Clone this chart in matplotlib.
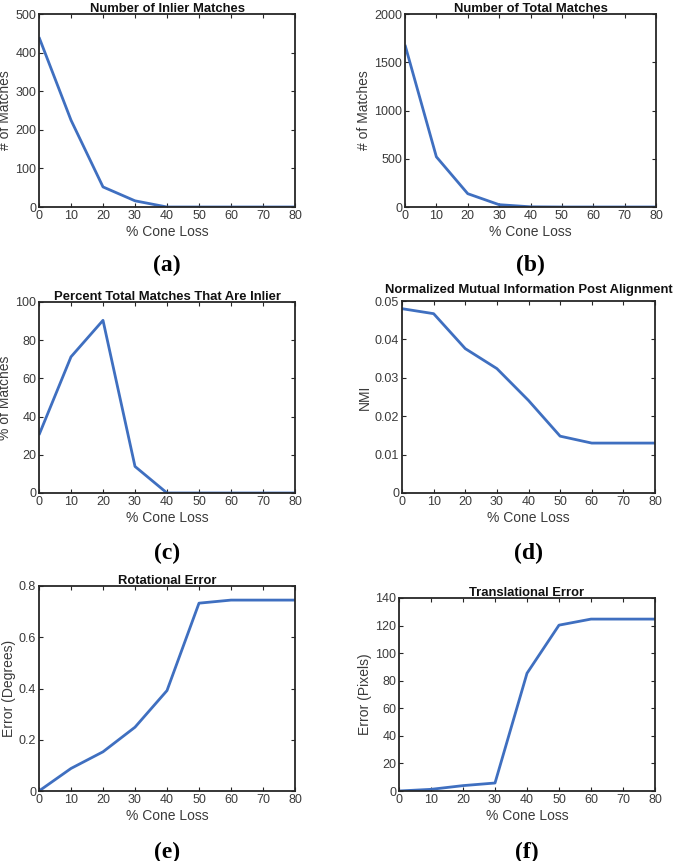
import matplotlib
matplotlib.use("Agg")
import matplotlib.pyplot as plt

plt.rcParams['font.family'] = ['Liberation Sans', 'DejaVu Sans']

# Data
cone_loss = [0, 10, 20, 30, 40, 50, 60, 70, 80]
inlier_matches = [440, 225, 52, 16, 0, 0, 0, 0, 0]
total_matches = [1680, 520, 138, 24, 2, 0, 0, 0, 0]
percent_inlier = [30.4, 71.3, 90.4, 13.9, 0, 0, 0, 0, 0]
nmi = [0.0480, 0.0467, 0.0376, 0.0324, 0.0241, 0.0148, 0.0130, 0.0130, 0.0130]
rot_error = [0.0, 0.088, 0.153, 0.249, 0.392, 0.733, 0.745, 0.745, 0.745]
trans_error = [0.0, 1.2, 3.9, 5.8, 85.4, 120.3, 124.7, 124.7, 124.7]

W, H = 673, 861
fig = plt.figure(figsize=(W / 100, H / 100), dpi=100)

line_color = '#3F6FC0'
text_gray = '#3a3a3a'

def make_ax(x0, y0, x1, y1):
    # pixel box (top-left origin) -> figure fraction
    return fig.add_axes([x0 / W, 1 - y1 / H, (x1 - x0) / W, (y1 - y0) / H])

panels = [
    # box, y data, ylim, yticks, title, title pad, ylabel, letter, letter_y
    ((39, 14, 295, 207), inlier_matches, (0, 500), [0, 100, 200, 300, 400, 500],
     'Number of Inlier Matches', 1.5, '# of Matches', '(a)', 265),
    ((405, 14, 656, 207), total_matches, (0, 2000), [0, 500, 1000, 1500, 2000],
     'Number of Total Matches', 1.5, '# of Matches', '(b)', 265),
    ((39, 302, 295, 493), percent_inlier, (0, 100), [0, 20, 40, 60, 80, 100],
     'Percent Total Matches That Are Inlier', 1.5, '% of Matches', '(c)', 553),
    ((402, 301, 655, 493), nmi, (0, 0.05), [0, 0.01, 0.02, 0.03, 0.04, 0.05],
     'Normalized Mutual Information Post Alignment', 6, 'NMI', '(d)', 553),
    ((39, 586, 295, 791), rot_error, (0, 0.8), [0, 0.2, 0.4, 0.6, 0.8],
     'Rotational Error', 1.5, 'Error (Degrees)', '(e)', 852),
    ((399, 598, 655, 791), trans_error, (0, 140), [0, 20, 40, 60, 80, 100, 120, 140],
     'Translational Error', 1.5, 'Error (Pixels)', '(f)', 852),
]

for box, ydata, ylim, yticks, title, tpad, ylabel, letter, letter_y in panels:
    ax = make_ax(*box)
    ax.plot(cone_loss, ydata, color=line_color, linewidth=2.0, solid_capstyle='butt')
    ax.set_xlim(0, 80)
    ax.set_ylim(*ylim)
    ax.set_xticks(cone_loss)
    ax.set_yticks(yticks)
    ax.set_yticklabels([('%g' % t) for t in yticks])
    ax.tick_params(direction='in', top=True, right=True, length=3, width=0.8,
                   labelsize=9, colors='#262626', labelcolor=text_gray, pad=2)
    for s in ax.spines.values():
        s.set_linewidth(1.3)
        s.set_color('#262626')
    ax.set_title(title, fontsize=9.4, fontweight='bold', pad=tpad, color='#111111')
    ax.set_xlabel('% Cone Loss', fontsize=10, color=text_gray, labelpad=2)
    ax.set_ylabel(ylabel, fontsize=10, color=text_gray, labelpad=2)
    cx = (box[0] + box[2]) / 2
    fig.text(cx / W, 1 - letter_y / H, letter, fontsize=17, fontweight='bold',
             family='Liberation Serif', ha='center', va='center')

fig.savefig('out.png', dpi=100)
